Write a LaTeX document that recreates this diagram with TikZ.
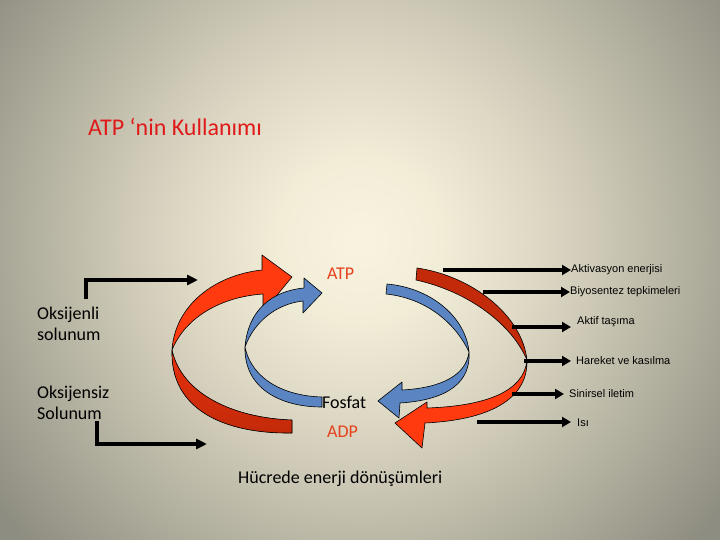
\documentclass[tikz,border=0pt]{standalone}
\usepackage{fontspec}
\setmainfont{Carlito}
\newfontfamily\smallfont{Liberation Sans}
\usetikzlibrary{arrows.meta}
\definecolor{bgA}{HTML}{F8F4E0}
\definecolor{bgB}{HTML}{F2EDD7}
\definecolor{bgC}{HTML}{DCD8C4}
\definecolor{bgD}{HTML}{CDC9B6}
\definecolor{bgE}{HTML}{A9A797}
\definecolor{bgF}{HTML}{8E8D81}
\definecolor{redB}{HTML}{FF3A0E}
\definecolor{redM}{HTML}{E8300C}
\definecolor{redD}{HTML}{C22A0A}
\definecolor{blueA}{HTML}{5A84C2}
\definecolor{titlered}{HTML}{E01A1A}
\definecolor{labred}{HTML}{E8401C}
\pgfdeclareradialshading{bgshade}{\pgfpoint{0bp}{0bp}}{color(0bp)=(bgA); color(4.5bp)=(bgB); color(10bp)=(bgC); color(13.3bp)=(bgD); color(20bp)=(bgE); color(25bp)=(bgF); color(50bp)=(bgF)}
\tikzset{
  ribbon/.style={draw=black, line width=0.6pt, line join=round},
  bkleft/.style={line width=4pt, -{Triangle[length=11pt,width=10pt]}},
  bkright/.style={line width=4pt, -{Triangle[length=9pt,width=10pt]}},
  biglab/.style={font=\fontsize{18}{21}\selectfont, inner sep=0pt, align=left},
  smalllab/.style={font=\smallfont\fontsize{11}{13}\selectfont, inner sep=0pt, anchor=west}
}
\begin{document}
\begin{tikzpicture}[x=1pt,y=-1pt]
\useasboundingbox (0,0) rectangle (720,540);
\begin{scope}
\clip (0,0) rectangle (720,540);
\shade[shading=bgshade] (-90,-210) rectangle (810,690);
\end{scope}

% title
\node[biglab, anchor=base west, text=titlered, font=\fontsize{24}{28}\selectfont] (title) at (88,136) {ATP ‘nin Kullanımı};

% left red arrow
\filldraw[ribbon, fill=redB] (172,350) .. controls (175,305) and (215,275) .. (262,270)
  -- (262,255) -- (292,277) -- (263,312) -- (263,294)
  .. controls (220,297) and (185,318) .. (172,350) -- cycle;
\filldraw[ribbon, top color=redM, bottom color=redD] (172,350) .. controls (182,395) and (235,418) .. (292,420)
  -- (292,433) .. controls (225,434) and (170,410) .. (172,350) -- cycle;

% left blue arrow
\filldraw[ribbon, fill=blueA] (245,347) .. controls (248,310) and (272,291) .. (304,288)
  -- (304,278) -- (322,293) -- (303,313) -- (303,301)
  .. controls (276,304) and (254,322) .. (245,347) -- cycle;
\filldraw[ribbon, fill=blueA] (245,347) .. controls (252,380) and (285,396) .. (322,397)
  -- (322,407) .. controls (280,407) and (244,388) .. (245,347) -- cycle;

% right blue arrow
\filldraw[ribbon, fill=blueA] (387,284) .. controls (432,288) and (466,318) .. (469,352)
  .. controls (455,322) and (425,298) .. (386,294) -- cycle;
\filldraw[ribbon, fill=blueA] (469,352) .. controls (466,376) and (440,388) .. (402,390)
  -- (402,382) -- (378,401) -- (399,418) -- (400,403)
  .. controls (448,400) and (471,382) .. (469,352) -- cycle;

% right red arrow
\filldraw[ribbon, fill=redD] (417,268) .. controls (472,276) and (522,315) .. (527,360)
  .. controls (512,325) and (470,292) .. (416,280) -- cycle;
\filldraw[ribbon, fill=redB] (527,360) .. controls (524,392) and (485,406) .. (427,408)
  -- (427,402) -- (395,423) -- (422,448) -- (425,423)
  .. controls (488,420) and (528,400) .. (527,360) -- cycle;

% centre labels
\node[biglab, anchor=base west, text=labred] (atp) at (327,279) {ATP};
\node[biglab, anchor=base west] (fosfat) at (322,408) {Fosfat};
\node[biglab, anchor=base west, text=labred] (adp) at (327,437) {ADP};
\node[biglab, anchor=base west] (hucre) at (238,483) {Hücrede enerji dönüşümleri};

% left labels
\node[biglab, anchor=base west] (oks1) at (37,319) {Oksijenli};
\node[biglab, anchor=base west] (oks1b) at (37,340) {solunum};
\node[biglab, anchor=base west] (oks2) at (37,398) {Oksijensiz};
\node[biglab, anchor=base west] (oks2b) at (37,419) {Solunum};

% left black arrows
\coordinate (ls1) at (86,299);
\coordinate (lt1) at (198,280);
\coordinate (ls2) at (97,421);
\coordinate (lt2) at (207,444);
\draw[bkleft] (ls1) |- (lt1);
\draw[bkleft] (ls2) |- (lt2);

% right labels
\node[smalllab] (r1) at (571,270) {Aktivasyon enerjisi};
\node[smalllab] (r2) at (570,292) {Biyosentez tepkimeleri};
\node[smalllab] (r3) at (577,322) {Aktif taşıma};
\node[smalllab] (r4) at (576,361) {Hareket ve kasılma};
\node[smalllab] (r5) at (569,394) {Sinirsel iletim};
\node[smalllab] (r6) at (577,423) {Isı};

\coordinate (s1) at (443,270);
\coordinate (s2) at (483,292);
\coordinate (s3) at (512,327);
\coordinate (t3) at (571,327);
\coordinate (s4) at (524,361);
\coordinate (t4) at (571,361);
\coordinate (s5) at (512,394);
\coordinate (t5) at (564,394);
\coordinate (s6) at (477,422);
\coordinate (t6) at (571,422);
\draw[bkright] (s1) -- (r1.west);
\draw[bkright] (s2) -- (r2.west);
\draw[bkright] (s3) -- (t3);
\draw[bkright] (s4) -- (t4);
\draw[bkright] (s5) -- (t5);
\draw[bkright] (s6) -- (t6);
\end{tikzpicture}
\end{document}
